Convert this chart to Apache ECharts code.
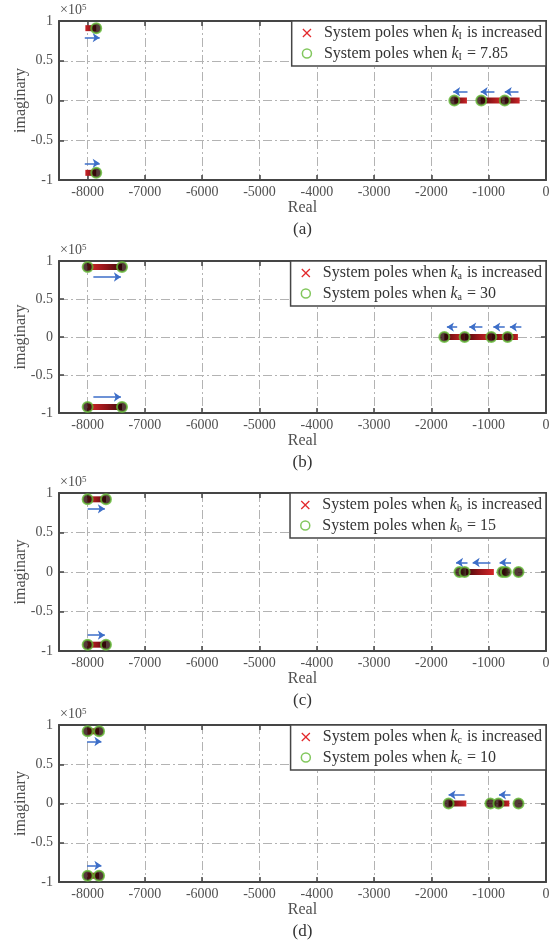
<!DOCTYPE html>
<html><head><meta charset="utf-8">
<script src="https://cdn.jsdelivr.net/npm/echarts@6/dist/echarts.min.js"></script>
<style>html,body{margin:0;padding:0;background:#fff}#chart{width:559px;height:948px}</style>
</head><body><div id="chart"></div>
<script>
// Closed-loop pole movement for four controller gains (imaginary part in units of 1e5)
const panelLabels = ['(a)', '(b)', '(c)', '(d)'];
const gainSubscripts = ['I', 'a', 'b', 'c'];
const nominalGains = ['7.85', '30', '15', '10'];

// Pole trajectories: [real at lowest gain, real at highest gain, imaginary]
const tracesA = [[-8040, -7850, 0.91], [-8040, -7850, -0.91], [-1380, -1600, 0], [-770, -1140, 0], [-460, -720, 0]];
const tracesB = [[-8000, -7400, 0.92], [-8000, -7400, -0.92], [-490, -670, 0], [-670, -955, 0], [-955, -1420, 0], [-1420, -1775, 0]];
const tracesC = [[-8000, -7680, 0.92], [-8000, -7680, -0.92], [-910, -1400, 0], [-720, -760, 0]];
const tracesD = [[-8000, -7800, 0.92], [-8000, -7800, -0.92], [-1390, -1700, 0], [-640, -830, 0]];

// Poles at the nominal gain: [real, imaginary]
const polesA = [[-7850, 0.91], [-7850, -0.91], [-1600, 0], [-1130, 0], [-720, 0]];
const polesB = [[-8000, 0.92], [-7400, 0.92], [-8000, -0.92], [-7400, -0.92], [-1775, 0], [-1420, 0], [-955, 0], [-670, 0]];
const polesC = [[-8000, 0.92], [-7680, 0.92], [-8000, -0.92], [-7680, -0.92], [-1510, 0], [-1420, 0], [-760, 0], [-700, 0], [-480, 0]];
const polesD = [[-8000, 0.92], [-7800, 0.92], [-8000, -0.92], [-7800, -0.92], [-1700, 0], [-970, 0], [-830, 0], [-480, 0]];

// Direction arrows: [x start, y start, x end, y end]
const arrowsA = [[-8050, 0.79, -7790, 0.79], [-8050, -0.79, -7790, -0.79], [-1370, 0.11, -1620, 0.11], [-900, 0.11, -1140, 0.11], [-480, 0.11, -720, 0.11]];
const arrowsB = [[-7900, 0.79, -7420, 0.79], [-7900, -0.79, -7420, -0.79], [-1550, 0.13, -1730, 0.13], [-1110, 0.13, -1340, 0.13], [-720, 0.13, -920, 0.13], [-430, 0.13, -630, 0.13]];
const arrowsC = [[-8000, 0.80, -7700, 0.80], [-8000, -0.80, -7700, -0.80], [-1370, 0.12, -1570, 0.12], [-970, 0.12, -1280, 0.12], [-610, 0.12, -810, 0.12]];
const arrowsD = [[-8010, 0.79, -7760, 0.79], [-8010, -0.79, -7760, -0.79], [-1420, 0.11, -1700, 0.11], [-620, 0.11, -820, 0.11]];

const traces = [tracesA, tracesB, tracesC, tracesD];
const poles = [polesA, polesB, polesC, polesD];
const arrows = [arrowsA, arrowsB, arrowsC, arrowsD];

// Layout of the four stacked plots
const panelTops = [21, 261, 493, 725];
const panelHeights = [159, 152, 158, 157];
const plotLeft = 59, plotRight = 13;

const FONT = 'Liberation Serif';
const AXIS_COLOR = '#454545';
const LABEL_COLOR = '#505050';
const RED = '#e32a2d';
const DARK = '#2a0707';
const GREEN = '#63b935';
const BLUE = '#3d6ec8';
const CROSS = 'path://M1,0 L5,4 L9,0 L10,1 L6,5 L10,9 L9,10 L5,6 L1,10 L0,9 L4,5 L0,1 Z';

const incName = i => 'inc' + i;
const nomName = i => 'nom' + i;

const grids = [], xAxes = [], yAxes = [], series = [], legends = [], graphics = [];
const splitStyle = { show: true, lineStyle: { type: [9, 3, 2, 3], color: '#b3b3b3', width: 1 } };
const tickStyle = { show: true, inside: true, length: 5, lineStyle: { color: AXIS_COLOR, width: 1.5 } };
const lineStyle = { show: true, onZero: false, lineStyle: { color: AXIS_COLOR, width: 2 } };

for (let i = 0; i < 4; i++) {
  grids.push({ left: plotLeft, right: plotRight, top: panelTops[i], height: panelHeights[i] });
  const xBase = { type: 'value', gridIndex: i, min: -8500, max: 0, splitNumber: 9, minInterval: 1000, maxInterval: 1000, axisLine: lineStyle, axisTick: tickStyle };
  xAxes.push(Object.assign({}, xBase, {
    position: 'bottom',
    name: 'Real', nameLocation: 'middle', nameGap: 18,
    nameTextStyle: { fontFamily: FONT, fontSize: 16, color: LABEL_COLOR },
    axisLabel: { showMinLabel: false, fontFamily: FONT, fontSize: 14, color: LABEL_COLOR, margin: 5, formatter: v => String(v) },
    splitLine: splitStyle
  }));
  xAxes.push(Object.assign({}, xBase, { position: 'top', axisLabel: { show: false }, splitLine: { show: false } }));
  const yBase = { type: 'value', gridIndex: i, min: -1, max: 1, interval: 0.5, axisLine: lineStyle, axisTick: tickStyle };
  yAxes.push(Object.assign({}, yBase, {
    position: 'left',
    name: 'imaginary', nameLocation: 'middle', nameGap: 30, nameRotate: 90, nameMoveOverlap: false,
    nameTextStyle: { fontFamily: FONT, fontSize: 16, color: LABEL_COLOR },
    axisLabel: { fontFamily: FONT, fontSize: 14, color: LABEL_COLOR, margin: 6, formatter: v => String(v) },
    splitLine: splitStyle
  }));
  yAxes.push(Object.assign({}, yBase, { position: 'right', axisLabel: { show: false }, splitLine: { show: false } }));

  traces[i].forEach(t => {
    const toRight = t[1] > t[0];
    series.push({
      type: 'line', name: incName(i), xAxisIndex: 2 * i, yAxisIndex: 2 * i,
      data: [[t[0], t[2]], [t[1], t[2]]],
      showSymbol: false, silent: true, z: 3,
      lineStyle: { width: 6, color: new echarts.graphic.LinearGradient(toRight ? 0 : 1, 0, toRight ? 1 : 0, 0, [
        { offset: 0, color: RED }, { offset: 0.55, color: '#8e1418' }, { offset: 1, color: DARK }]) }
    });
  });
  series.push({
    type: 'scatter', name: nomName(i), xAxisIndex: 2 * i, yAxisIndex: 2 * i,
    data: poles[i], symbol: 'circle', symbolSize: 10, silent: true, z: 4,
    itemStyle: { color: DARK, borderColor: GREEN, borderWidth: 2 }
  });
  series.push({
    type: 'lines', coordinateSystem: 'cartesian2d', xAxisIndex: 2 * i, yAxisIndex: 2 * i,
    data: arrows[i].map(a => ({ coords: [[a[0], a[1]], [a[2], a[3]]] })),
    symbol: ['none', 'arrow'], symbolSize: [0, 7], silent: true, z: 5,
    lineStyle: { color: BLUE, width: 1.5, opacity: 1, curveness: 0 }
  });

  const sub = gainSubscripts[i], nom = nominalGains[i];
  legends.push({
    orient: 'vertical', right: plotRight, top: panelTops[i],
    itemWidth: 24, itemHeight: 9, itemGap: 4,
    padding: [4, 4, 4, 10],
    backgroundColor: '#fff', borderColor: AXIS_COLOR, borderWidth: 1.5, borderRadius: 0,
    selectedMode: false,
    data: [
      { name: incName(i), icon: CROSS, symbolKeepAspect: true, itemStyle: { color: RED, borderWidth: 0 } },
      { name: nomName(i), icon: 'circle', itemStyle: { color: 'rgba(0,0,0,0)', borderColor: GREEN, borderWidth: 1.5 } }
    ],
    formatter: name => name === incName(i)
      ? '{t|System poles when }{k|k}{s|' + sub + '}{t| is increased}'
      : '{t|System poles when }{k|k}{s|' + sub + '}{t| = ' + nom + '}',
    textStyle: {
      fontFamily: FONT, fontSize: 16, color: '#333',
      rich: {
        t: { fontFamily: FONT, fontSize: 16, color: '#333', lineHeight: 17 },
        k: { fontFamily: FONT, fontSize: 16, fontStyle: 'italic', color: '#333', lineHeight: 17 },
        s: { fontFamily: FONT, fontSize: 10, color: '#333', lineHeight: 10, verticalAlign: 'bottom', padding: [5, 1, 0, 0] }
      }
    }
  });

  const cx = plotLeft + (559 - plotLeft - plotRight) / 2;
  const bottom = panelTops[i] + panelHeights[i];
  graphics.push({
    type: 'text', x: cx, y: bottom + 50, silent: true,
    style: { text: panelLabels[i], fontFamily: FONT, fontSize: 17, fill: '#333', textAlign: 'center', textVerticalAlign: 'middle' }
  });
  graphics.push({
    type: 'text', x: plotLeft + 1, y: panelTops[i] - 11, silent: true,
    style: {
      text: '×10{s|5}', fontFamily: FONT, fontSize: 14, fill: LABEL_COLOR, textAlign: 'left', textVerticalAlign: 'middle',
      rich: { s: { fontFamily: FONT, fontSize: 9, fill: LABEL_COLOR, verticalAlign: 'top', lineHeight: 9 } }
    }
  });
}

const chart = echarts.init(document.getElementById('chart'), null, { renderer: 'canvas' });
chart.setOption({
  backgroundColor: '#fff',
  animation: false,
  grid: grids, xAxis: xAxes, yAxis: yAxes,
  legend: legends, series: series, graphic: graphics
});
</script>
</body></html>
